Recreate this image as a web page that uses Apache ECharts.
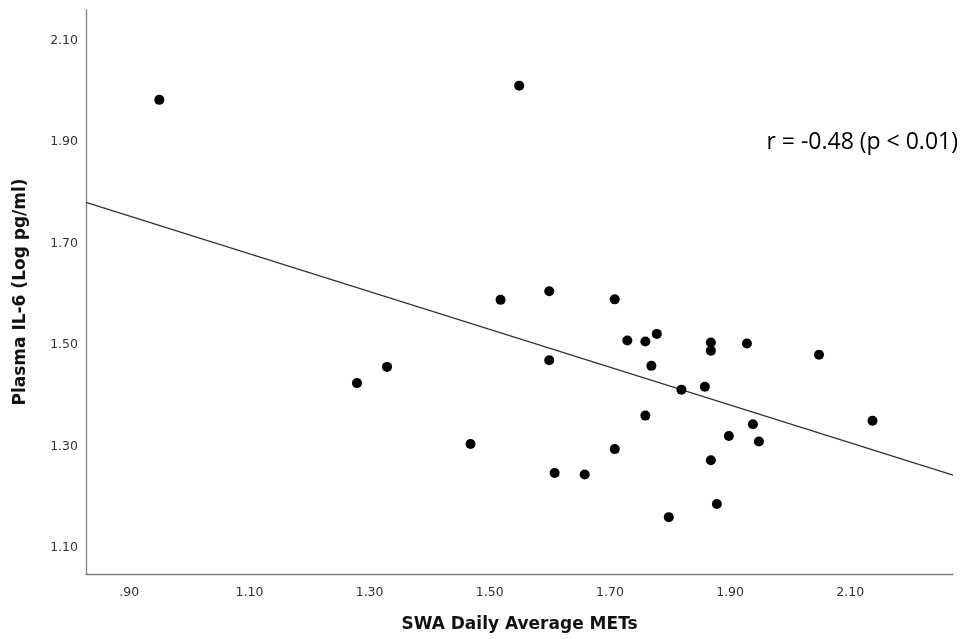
<!DOCTYPE html>
<html>
<head>
<meta charset="utf-8">
<title>IL-6 vs METs</title>
<script src="https://cdn.jsdelivr.net/npm/echarts@6/dist/echarts.min.js"></script>
<style>
  html, body { margin: 0; padding: 0; background: #fff; }
  #chart { width: 964px; height: 639px; }
</style>
</head>
<body>
<div id="chart"></div>
<script>
// scatter points: [METs, log IL-6]
var points = [
    [0.950, 1.983], [1.549, 2.011], [1.279, 1.425], [1.329, 1.457],
    [1.468, 1.305], [1.518, 1.589], [1.599, 1.606], [1.599, 1.470],
    [1.608, 1.248], [1.658, 1.245], [1.708, 1.590], [1.708, 1.295],
    [1.729, 1.509], [1.759, 1.507], [1.778, 1.522], [1.868, 1.505],
    [1.868, 1.489], [1.928, 1.503], [1.769, 1.459], [2.048, 1.481],
    [1.819, 1.412], [1.858, 1.418], [1.759, 1.361], [1.938, 1.344],
    [2.137, 1.351], [1.898, 1.321], [1.948, 1.310], [1.868, 1.273],
    [1.878, 1.187], [1.798, 1.161]
];
// fitted line, drawn across the whole x range
var fitLine = [[0.828, 1.781], [2.271, 1.244]];

var xTicks = [0.9, 1.1, 1.3, 1.5, 1.7, 1.9, 2.1];
var yTicks = [1.1, 1.3, 1.5, 1.7, 1.9, 2.1];
var xRange = [0.828, 2.271];
var yRange = [1.049, 2.160];

var xTitle = 'SWA Daily Average METs';
var yTitle = 'Plasma IL-6 (Log pg/ml)';
var note = 'r = -0.48 (p < 0.01)';

function fmt(v) {
    var s = v.toFixed(2);
    // SPSS drops the leading zero
    return s.charAt(0) === '0' ? s.slice(1) : s;
}

var titleStyle = { fontFamily: 'DejaVu Sans', fontWeight: 'bold', fontSize: 17, color: '#111' };
var tickStyle = { fontFamily: 'DejaVu Sans', fontSize: 12.5, color: '#333' };

var chart = echarts.init(document.getElementById('chart'));
chart.setOption({
    animation: false,
    grid: { left: 86, right: 11, top: 10, bottom: 65 },
    xAxis: {
        type: 'value',
        min: xRange[0],
        max: xRange[1],
        name: xTitle,
        nameLocation: 'middle',
        nameGap: 42,
        nameTextStyle: titleStyle,
        axisLine: { show: true, lineStyle: { color: '#808080', width: 1.3 } },
        axisTick: { show: false },
        splitLine: { show: false },
        axisLabel: Object.assign({ customValues: xTicks, formatter: fmt, margin: 12 }, tickStyle)
    },
    yAxis: {
        type: 'value',
        min: yRange[0],
        max: yRange[1],
        name: yTitle,
        nameLocation: 'middle',
        nameGap: 57,
        nameTextStyle: titleStyle,
        axisLine: { show: true, lineStyle: { color: '#808080', width: 1.3 } },
        axisTick: { show: false },
        splitLine: { show: false },
        axisLabel: Object.assign({ customValues: yTicks, formatter: fmt, margin: 8 }, tickStyle)
    },
    series: [
        {
            type: 'line',
            data: fitLine,
            symbol: 'none',
            lineStyle: { color: '#333', width: 1.3 },
            silent: true,
            z: 1
        },
        {
            type: 'scatter',
            data: points,
            symbolSize: 10,
            itemStyle: { color: '#000', opacity: 1 },
            z: 2
        }
    ],
    graphic: [{
        type: 'text',
        right: 6,
        top: 131,
        style: {
            text: note,
            fontFamily: 'Open Sans',
            fontSize: 23,
            fill: '#000'
        }
    }]
});
</script>
</body>
</html>
